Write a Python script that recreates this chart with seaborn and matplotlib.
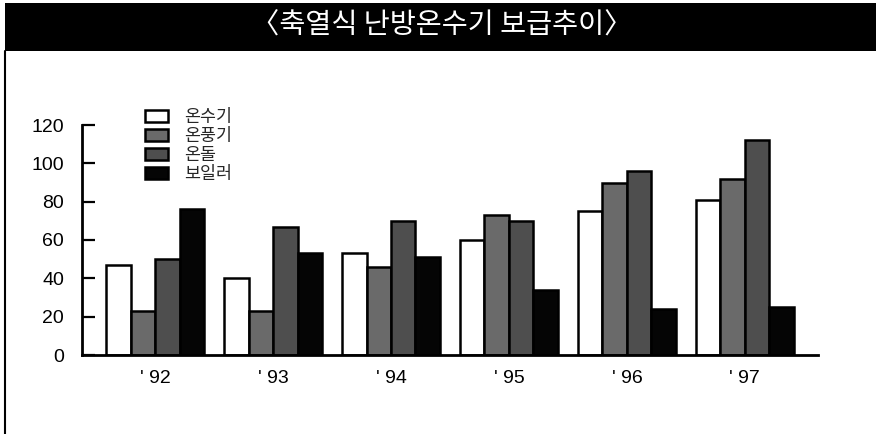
import matplotlib
matplotlib.use("Agg")
import matplotlib.pyplot as plt
from matplotlib.patches import Rectangle
from matplotlib.lines import Line2D
import seaborn as sns
import pandas as pd

# 연도별 난방기기 보급 추이
years = ["' 92", "' 93", "' 94", "' 95", "' 96", "' 97"]
series_names = ["온수기", "온풍기", "온돌", "보일러"]
onsugi = [47, 40, 53, 60, 75, 81]
onpunggi = [23, 23, 46, 73, 90, 92]
ondol = [50, 67, 70, 70, 96, 112]
boiler = [76, 53, 51, 34, 24, 25]
yticks = [0, 20, 40, 60, 80, 100, 120]
title_text = "〈축열식 난방온수기 보급추이〉"

df = pd.DataFrame({
    "year": years * 4,
    "type": [n for n in series_names for _ in years],
    "value": onsugi + onpunggi + ondol + boiler,
})

sns.set_theme(style="white")
plt.rcParams["font.family"] = ["Noto Sans CJK KR", "DejaVu Sans"]

W, H = 876, 434
fig = plt.figure(figsize=(W / 100, H / 100), dpi=100)
fig.patch.set_facecolor("white")

ax = fig.add_axes([82 / W, (H - 355) / H, (818 - 82) / W, (355 - 125) / H])
ax.set_facecolor("white")

palette = ["#ffffff", "#6a6a6a", "#4e4e4e", "#050505"]
sns.barplot(data=df, x="year", y="value", hue="type", hue_order=series_names,
            order=years, palette=palette, edgecolor="black", linewidth=1.8,
            width=0.83, saturation=1, ax=ax)

ax.set_xlim(-0.62, 5.62)
ax.set_ylim(0, 120)
ax.set_yticks(yticks)
ax.set_xlabel("")
ax.set_ylabel("")

for side in ["top", "right"]:
    ax.spines[side].set_visible(False)
for side in ["left", "bottom"]:
    ax.spines[side].set_visible(True)
    ax.spines[side].set_color("black")
    ax.spines[side].set_linewidth(2)

num_family = ["Liberation Sans", "DejaVu Sans"]
ax.tick_params(axis="y", direction="in", length=9, width=1.6, color="black",
               left=True, pad=13, labelsize=14, labelcolor="black")
ax.tick_params(axis="x", length=0, pad=10.5, labelsize=14, labelcolor="black")
for lab in ax.get_yticklabels() + ax.get_xticklabels():
    lab.set_fontfamily(num_family)

handles, labels = ax.get_legend_handles_labels()
ax.legend(handles, labels, loc="upper left", bbox_to_anchor=(145 / W, (H - 108) / H),
          bbox_transform=fig.transFigure, frameon=False, fontsize=12.5,
          handlelength=1.35, handleheight=0.75, handletextpad=0.9,
          labelspacing=0.06, borderpad=0, borderaxespad=0)

# 제목 띠
fig.patches.append(Rectangle((5 / W, (H - 51) / H), 1 - 5 / W, 48 / H,
                             transform=fig.transFigure, facecolor="black",
                             edgecolor="none", zorder=0))
fig.text(442 / W, (H - 26) / H, title_text, color="white", fontsize=20.4,
         ha="center", va="center", family=["Noto Sans CJK KR", "DejaVu Sans"])

# 왼쪽 테두리
fig.add_artist(Line2D([5 / W, 5 / W], [0, (H - 51) / H], color="black",
                      linewidth=1.5, transform=fig.transFigure))

fig.savefig("out.png", dpi=100)
